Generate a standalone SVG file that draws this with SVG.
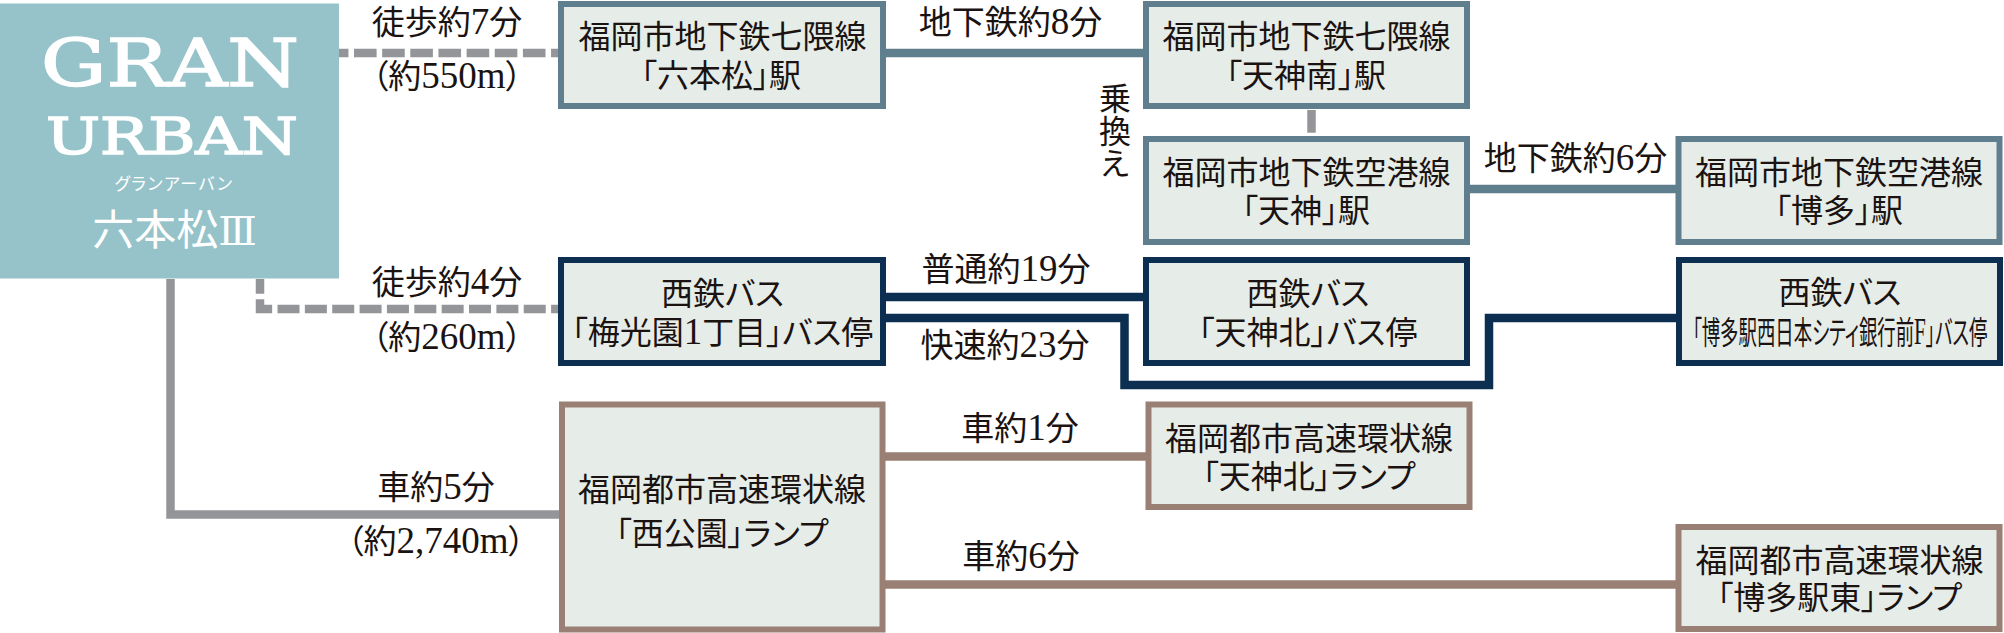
<svg xmlns="http://www.w3.org/2000/svg" width="2004" height="633" viewBox="0 0 2004 633">
<style>
text{font-family:"Liberation Serif","Noto Sans CJK JP",serif;font-feature-settings:"palt";fill:#1a1311;font-size:32px;text-anchor:middle}
.lb{font-size:33px}
.n{font-size:37px}
.box{fill:#e6ece8;stroke-width:6}
.sub{stroke:#5f7f8f}.bus{stroke:#0c2e50}.car{stroke:#9a8074}
.line{fill:none;stroke-width:8.5;stroke-linejoin:miter}
.gray{stroke:#939598}
.w{fill:#fff}
.logo{font-family:"DejaVu Serif",serif;stroke:#fff;stroke-width:1.6px}
</style>
<g id="connectors">
<path class="line gray" style="stroke-dasharray:22.6 5.55;stroke-dashoffset:13.15" d="M339 53H558"/>
<path class="line gray" style="stroke-dasharray:22 5.36;stroke-dashoffset:7.22" d="M260 279V309H558"/>
<path class="line gray" d="M170.500 279V514.500H559"/>
<path class="line gray" d="M1311.500 110V132.700"/>
<path class="line sub" d="M886 53H1143"/>
<path class="line sub" d="M1469 189H1676"/>
<path class="line bus" d="M886 297H1143"/>
<path class="line bus" d="M886 318H1124.500V385H1489V318H1676"/>
<path class="line car" d="M885 456.500H1146"/>
<path class="line car" d="M885 584.500H1676"/>
</g>
<g id="logo">
<rect x="0" y="3.500" width="339" height="275" fill="#95c3c9"/>
<text class="w logo" x="170" y="85.500" textLength="258" lengthAdjust="spacingAndGlyphs" style="font-size:66px">GRAN</text>
<text class="w logo" x="172" y="153.500" textLength="252" lengthAdjust="spacingAndGlyphs" style="font-size:51px">URBAN</text>
<text class="w" x="174" y="190" style="font-size:17px;letter-spacing:1.5px">グランアーバン</text>
<text class="w" x="174.500" y="245" style="font-size:42px">六本松<tspan style="font-family:'DejaVu Serif',serif;font-size:40px">Ⅲ</tspan></text>
</g>
<g id="n-rokuhonmatsu"><rect class="box sub" x="561" y="4" width="322" height="102"/><text x="722.500" y="48">福岡市地下鉄七隈線</text><text x="721" y="86.500">「六本松」駅</text></g>
<g id="n-tenjinminami"><rect class="box sub" x="1146" y="4" width="321" height="102"/><text x="1306.500" y="48">福岡市地下鉄七隈線</text><text x="1306" y="86.500">「天神南」駅</text></g>
<g id="n-tenjin"><rect class="box sub" x="1146" y="139" width="321" height="103"/><text x="1306.500" y="184">福岡市地下鉄空港線</text><text x="1306" y="222">「天神」駅</text></g>
<g id="n-hakata"><rect class="box sub" x="1678.500" y="139" width="321" height="103"/><text x="1839" y="184">福岡市地下鉄空港線</text><text x="1839" y="222">「博多」駅</text></g>
<g id="n-baikoen"><rect class="box bus" x="561" y="260" width="322" height="103"/><text x="722.500" y="304.500">西鉄バス</text><text x="722.500" y="344">「梅光園<tspan class="n">1</tspan>丁目」バス停</text></g>
<g id="n-tenjinkita-bus"><rect class="box bus" x="1146" y="260" width="321" height="103"/><text x="1308" y="304.500">西鉄バス</text><text x="1308" y="344">「天神北」バス停</text></g>
<g id="n-hakata-bus"><rect class="box bus" x="1679" y="260" width="321" height="103"/><text x="1840" y="304">西鉄バス</text><text transform="translate(1840 344) scale(0.575 1)">「博多駅西日本シティ銀行前<tspan class="n">F</tspan>」バス停</text></g>
<g id="n-nishikoen"><rect class="box car" x="562" y="404.500" width="320.500" height="225"/><text x="722" y="500.500">福岡都市高速環状線</text><text x="722" y="545">「西公園」ランプ</text></g>
<g id="n-tenjinkita-ramp"><rect class="box car" x="1148.500" y="404.500" width="321" height="102.500"/><text x="1309" y="450">福岡都市高速環状線</text><text x="1309" y="487.500">「天神北」ランプ</text></g>
<g id="n-hakataeki-higashi"><rect class="box car" x="1678.500" y="527" width="321" height="102"/><text x="1839.500" y="571.500">福岡都市高速環状線</text><text x="1839.500" y="609">「博多駅東」ランプ</text></g>
<g id="labels">
<text class="lb" x="447" y="34">徒歩約<tspan class="n">7</tspan>分</text>
<text class="lb" x="447" y="88">（約<tspan class="n">550m</tspan>）</text>
<text class="lb" x="447" y="294">徒歩約<tspan class="n">4</tspan>分</text>
<text class="lb" x="447" y="349">（約<tspan class="n">260m</tspan>）</text>
<text class="lb" x="436" y="499">車約<tspan class="n">5</tspan>分</text>
<text class="lb" x="436" y="553">（約<tspan class="n">2,740m</tspan>）</text>
<text class="lb" x="1010.500" y="34">地下鉄約<tspan class="n">8</tspan>分</text>
<text class="lb" x="1006" y="281">普通約<tspan class="n">19</tspan>分</text>
<text class="lb" x="1005" y="357">快速約<tspan class="n">23</tspan>分</text>
<text class="lb" x="1575.500" y="170">地下鉄約<tspan class="n">6</tspan>分</text>
<text class="lb" x="1020" y="440">車約<tspan class="n">1</tspan>分</text>
<text class="lb" x="1021" y="568">車約<tspan class="n">6</tspan>分</text>
<text x="1112" y="82" style="writing-mode:vertical-rl;text-anchor:start;letter-spacing:0.5px;font-size:32px">乗換え</text>
</g>
</svg>
